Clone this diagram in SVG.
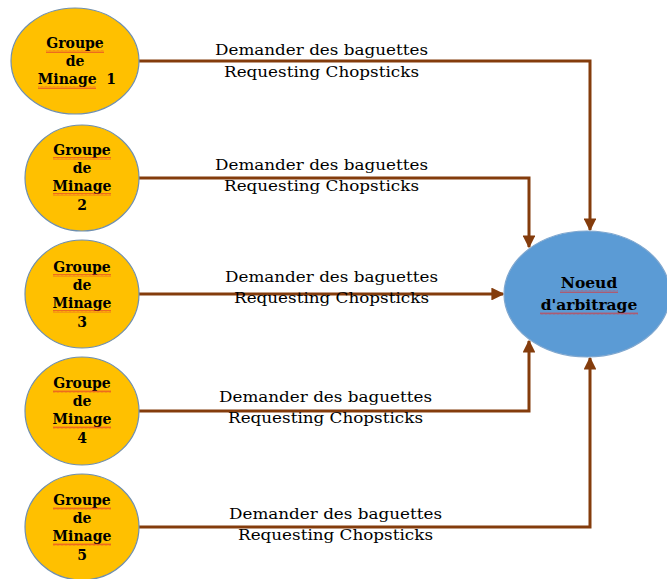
<svg xmlns="http://www.w3.org/2000/svg" width="667" height="579" viewBox="0 0 667 579">
  <style>
    .grp ellipse { fill: #FFC000; stroke: #6F8FAF; stroke-width: 1.2; }
    .hub ellipse { fill: #5B9BD5; stroke: #7FA7CF; stroke-width: 1.2; }
    .nlabel { font-family: "DejaVu Serif", "Liberation Serif", serif; font-weight: bold; font-size: 14px; fill: #000; text-anchor: middle; }
    .hlabel { font-family: "DejaVu Serif", "Liberation Serif", serif; font-weight: bold; font-size: 15.5px; fill: #000; text-anchor: middle; }
    .elabel { font-family: "DejaVu Serif", "Liberation Serif", serif; font-size: 15.5px; fill: #000; }
    .wire { fill: none; stroke: #843C0C; stroke-width: 3; marker-end: url(#head); }
    .sq { fill: url(#squiggle); }
  </style>
  <defs>
    <marker id="head" viewBox="0 0 10 10" refX="9" refY="5" markerWidth="4.3" markerHeight="4.3" orient="auto" markerUnits="strokeWidth">
      <path d="M0,0 L10,5 L0,10 Z" fill="#843C0C"/>
    </marker>
    <pattern id="squiggle" width="4" height="3" patternUnits="userSpaceOnUse">
      <path d="M0,2.5 L1,0.5 L2,2.5 L3,0.5 L4,2.5" fill="none" stroke="#E03030" stroke-width="0.6"/>
    </pattern>
  </defs>

  <!-- connectors -->
  <g id="connectors">
    <path class="wire" d="M139,61 H590 V230"/>
    <path class="wire" d="M139,178 H529 V247"/>
    <path class="wire" d="M139,294 H503"/>
    <path class="wire" d="M139,411 H529 V341"/>
    <path class="wire" d="M139,527 H590 V358"/>
  </g>

  <!-- connector labels -->
  <g id="edge-labels">
    <text class="elabel" x="215" y="55" textLength="213" lengthAdjust="spacingAndGlyphs">Demander des baguettes</text>
    <text class="elabel" x="224" y="77" textLength="195" lengthAdjust="spacingAndGlyphs">Requesting Chopsticks</text>
    <text class="elabel" x="215" y="170" textLength="213" lengthAdjust="spacingAndGlyphs">Demander des baguettes</text>
    <text class="elabel" x="224" y="191" textLength="195" lengthAdjust="spacingAndGlyphs">Requesting Chopsticks</text>
    <text class="elabel" x="225" y="282" textLength="213" lengthAdjust="spacingAndGlyphs">Demander des baguettes</text>
    <text class="elabel" x="234" y="303" textLength="195" lengthAdjust="spacingAndGlyphs">Requesting Chopsticks</text>
    <text class="elabel" x="219" y="402" textLength="213" lengthAdjust="spacingAndGlyphs">Demander des baguettes</text>
    <text class="elabel" x="228" y="423" textLength="195" lengthAdjust="spacingAndGlyphs">Requesting Chopsticks</text>
    <text class="elabel" x="229" y="519" textLength="213" lengthAdjust="spacingAndGlyphs">Demander des baguettes</text>
    <text class="elabel" x="238" y="540" textLength="195" lengthAdjust="spacingAndGlyphs">Requesting Chopsticks</text>
  </g>

  <!-- mining groups -->
  <g id="groupe1" class="grp">
    <ellipse cx="75" cy="61" rx="64" ry="53"/>
    <text class="nlabel" x="75" y="48">Groupe</text>
    <text class="nlabel" x="75" y="66">de</text>
    <text class="nlabel" x="77" y="84">Minage&#160;&#160;1</text>
    <rect class="sq" x="46" y="50" width="58" height="3"/>
    <rect class="sq" x="38" y="86" width="58" height="3"/>
  </g>
  <g id="groupe2" class="grp">
    <ellipse cx="82" cy="178" rx="57" ry="53"/>
    <text class="nlabel" x="82" y="155">Groupe</text>
    <text class="nlabel" x="82" y="173">de</text>
    <text class="nlabel" x="82" y="191">Minage</text>
    <text class="nlabel" x="82" y="210">2</text>
    <rect class="sq" x="53" y="157" width="58" height="3"/>
    <rect class="sq" x="53" y="193" width="58" height="3"/>
  </g>
  <g id="groupe3" class="grp">
    <ellipse cx="82" cy="294" rx="57" ry="54"/>
    <text class="nlabel" x="82" y="272">Groupe</text>
    <text class="nlabel" x="82" y="290">de</text>
    <text class="nlabel" x="82" y="308">Minage</text>
    <text class="nlabel" x="82" y="327">3</text>
    <rect class="sq" x="53" y="274" width="58" height="3"/>
    <rect class="sq" x="53" y="310" width="58" height="3"/>
  </g>
  <g id="groupe4" class="grp">
    <ellipse cx="82" cy="411" rx="57" ry="54"/>
    <text class="nlabel" x="82" y="388">Groupe</text>
    <text class="nlabel" x="82" y="406">de</text>
    <text class="nlabel" x="82" y="424">Minage</text>
    <text class="nlabel" x="82" y="443">4</text>
    <rect class="sq" x="53" y="390" width="58" height="3"/>
    <rect class="sq" x="53" y="426" width="58" height="3"/>
  </g>
  <g id="groupe5" class="grp">
    <ellipse cx="82" cy="527" rx="57" ry="53"/>
    <text class="nlabel" x="82" y="505">Groupe</text>
    <text class="nlabel" x="82" y="523">de</text>
    <text class="nlabel" x="82" y="541">Minage</text>
    <text class="nlabel" x="82" y="560">5</text>
    <rect class="sq" x="53" y="507" width="58" height="3"/>
    <rect class="sq" x="53" y="543" width="58" height="3"/>
  </g>

  <!-- arbitration node -->
  <g id="arbitrage" class="hub">
    <ellipse cx="587" cy="294" rx="83" ry="63"/>
    <text class="hlabel" x="589" y="288">Noeud</text>
    <text class="hlabel" x="589" y="310">d'arbitrage</text>
    <rect class="sq" x="560" y="290" width="58" height="3"/>
    <rect class="sq" x="540" y="312" width="98" height="3"/>
  </g>
</svg>
